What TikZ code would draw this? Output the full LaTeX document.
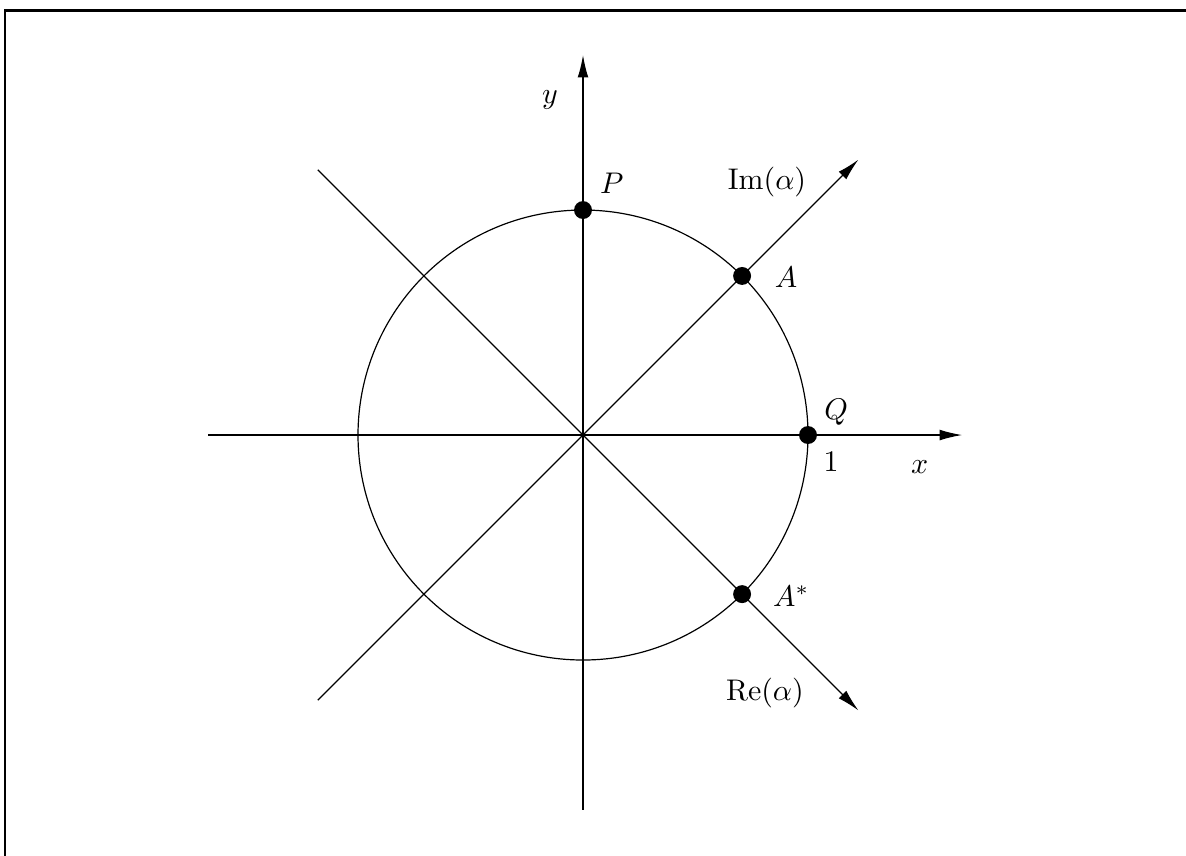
\documentclass[tikz,border=0pt]{standalone}
\usepackage{amsmath}
\usepackage{tikz}
\usetikzlibrary{positioning,arrows.meta,calc}

\begin{document}
\begin{tikzpicture}[
  punto/.style={circle, fill=black, inner sep=0pt, minimum size=6pt},
  eje/.style={-{Latex[length=7.5pt,width=3.6pt]}}
]
  % Dimensiones del dibujo
  \def\R{2.647} % radio del circulo
  \def\L{4.41}  % semieje
  \def\D{3.12}  % extremo de las diagonales
  \def\T{3.24}  % punta de las diagonales

  % Marco
  \useasboundingbox (-6.859,-4.941) rectangle (7.094,5.118);
  \draw[line width=0.7pt] (-6.80,-5.3) -- (-6.80,4.994) -- (7.4,4.994);

  % Puntos de referencia
  \coordinate (O) at (0,0);
  \coordinate (xi) at (-\L,0);
  \coordinate (xf) at (4.46,0);
  \coordinate (yi) at (0,-\L);
  \coordinate (yf) at (0,4.47);
  \coordinate (d1i) at (-\D,\D);
  \coordinate (d1f) at (\T,-\T);
  \coordinate (d2i) at (-\D,-\D);
  \coordinate (d2f) at (\T,\T);

  % Circulo unidad
  \draw (O) circle (\R);

  % Ejes y diagonales
  \draw[eje] (xi) -- (xf);
  \draw[eje] (yi) -- (yf);
  \draw[eje] (d1i) -- (d1f);
  \draw[eje] (d2i) -- (d2f);

  % Puntos sobre el circulo
  \node[punto] (P) at (90:\R) {};
  \node[punto] (Q) at (0:\R) {};
  \node[punto] (A) at (45:\R) {};
  \node[punto] (As) at (-45:\R) {};

  % Etiquetas
  \node (ly) at (-0.39,3.94) {$y$};
  \node (lx) at (3.96,-0.38) {$x$};
  \node (luno) at (2.92,-0.32) {$1$};
  \node (lP) at (0.34,2.96) {$P$};
  \node (lQ) at (2.98,0.27) {$Q$};
  \node (lA) at (2.39,1.86) {$A$};
  \node (lAs) at (2.45,-1.90) {$A^{*}$};
  \node (lIm) at (2.165,2.98) {$\mathrm{Im}(\alpha)$};
  \node (lRe) at (2.14,-3.04) {$\mathrm{Re}(\alpha)$};
\end{tikzpicture}
\end{document}
